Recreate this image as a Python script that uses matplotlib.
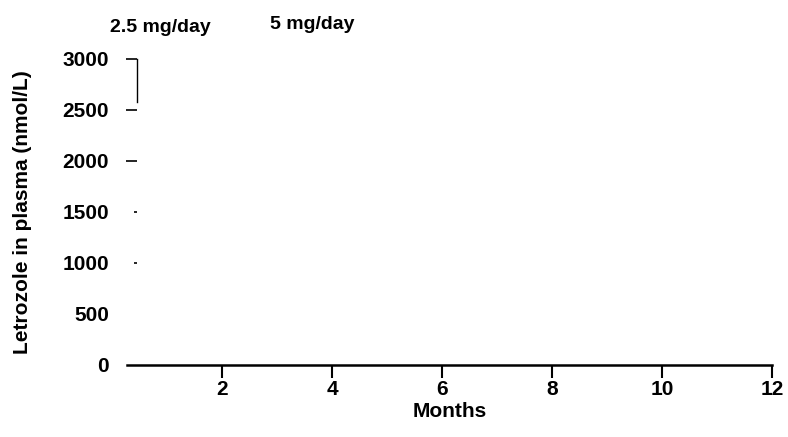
import matplotlib
matplotlib.use('Agg')
import matplotlib.pyplot as plt

# ── Data (scanned figure: axes only, no series visible) ──────────────────
MONTH_TICKS = [2, 4, 6, 8, 10, 12]
CONC_TICKS = [0, 500, 1000, 1500, 2000, 2500, 3000]
DOSE_LABELS = ['2.5 mg/day', '5 mg/day']

plt.rcParams.update({
    'font.family': ['Liberation Sans', 'DejaVu Sans'],
    'font.size': 15, 'font.weight': 'bold',
})

fig = plt.figure(figsize=(7.88, 4.37), dpi=100)
ax = fig.add_axes([0.161, 0.165, 0.8185, 0.700])

ax.set_xlim(0.27, 12.0)
ax.set_ylim(0, 3000)

# x axis line + ticks
ax.spines['top'].set_visible(False)
ax.spines['right'].set_visible(False)
ax.spines['bottom'].set_linewidth(1.8)
ax.spines['left'].set_position(('data', 0.45))
ax.spines['left'].set_bounds(2580, 3000)
ax.spines['left'].set_linewidth(1.0)

ax.set_xticks(MONTH_TICKS)
ax.set_xticklabels([str(m) for m in MONTH_TICKS])
ax.tick_params(axis='x', direction='out', length=9, width=1.5, pad=2, labelsize=15)

ax.set_yticks(CONC_TICKS)
ax.set_yticklabels([str(v) for v in CONC_TICKS])
ax.tick_params(axis='y', direction='out', length=8, width=1.2, pad=12, labelsize=15)
# faint scan: low ticks nearly invisible
for t, v in zip(ax.yaxis.get_major_ticks(), CONC_TICKS):
    if v < 1000:
        t.tick1line.set_visible(False)
    elif v < 2000:
        t.tick1line.set_markersize(2)

ax.set_xlabel('Months', fontsize=15, fontweight='bold', labelpad=2)
ax.set_ylabel('Letrozole in plasma (nmol/L)', fontsize=15, fontweight='bold', labelpad=22)

# dose group labels above the plot
fig.text(0.204, 0.938, DOSE_LABELS[0], ha='center', va='center', fontsize=14, fontweight='bold')
fig.text(0.396, 0.945, DOSE_LABELS[1], ha='center', va='center', fontsize=14, fontweight='bold')

fig.savefig('out.png', dpi=100, facecolor='white')
